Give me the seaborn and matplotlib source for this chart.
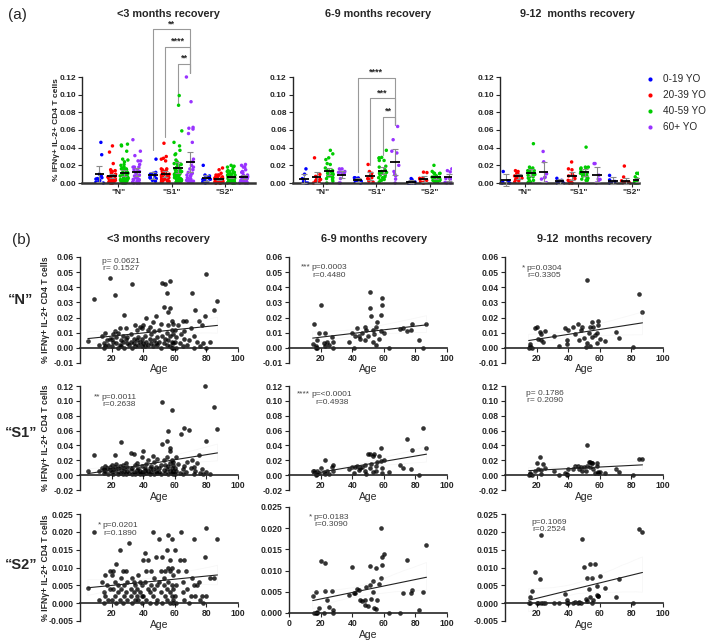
import numpy as np
import pandas as pd
import matplotlib
matplotlib.use("Agg")
import matplotlib.pyplot as plt
from matplotlib.collections import PolyCollection
import seaborn as sns

sns.set_style("ticks")
plt.rcParams["font.family"] = ["Liberation Sans", "DejaVu Sans"]
plt.rcParams["font.weight"] = "bold"

# ---------------- data ----------------
PERIODS = ["<3 months recovery", "6-9 months recovery", "9-12  months recovery"]
ANTIGENS = ['"N"', '"S1"', '"S2"']
ROW_LABELS = ["\u201cN\u201d", "\u201cS1\u201d", "\u201cS2\u201d"]
AGE_GROUPS = ["0-19 YO", "20-39 YO", "40-59 YO", "60+ YO"]
GROUP_COLORS = ["#0000ff", "#ff0000", "#00cc00", "#9933ff"]

ages_lt3 = [
    5, 9, 12, 14, 15, 15, 16, 16, 17, 18, 19, 19,
    20, 20, 21, 21, 22, 22, 23, 23, 24, 24,
    25, 25, 26, 26, 27, 27, 28, 28, 29, 29,
    30, 30, 31, 32, 32, 33, 33, 34, 34, 35,
    35, 36, 36, 37, 37, 38, 38, 39, 39, 39,
    40, 40, 41, 41, 42, 42, 43, 43, 44, 44,
    45, 45, 46, 46, 47, 47, 48, 48, 49, 49,
    50, 50, 51, 51, 52, 52, 53, 53, 54, 54,
    55, 55, 55, 56, 56, 56, 57, 57, 57, 57,
    58, 58, 58, 58, 59, 59, 59, 59,
    60, 60, 61, 61, 62, 63, 64, 65, 65, 66,
    66, 67, 68, 69, 70, 71, 72, 72, 73, 74,
    75, 76, 77, 78, 79, 80, 80, 82, 85, 87,
]
n_lt3 = [
    0.0045, 0.032, 0.002, 0.008, 0.000, 0.003, 0.010, 0.001, 0.005, 0.002, 0.046, 0.006,
    0.001, 0.006, 0.004, 0.009, 0.035, 0.011, 0.003, 0.007, 0.000, 0.010,
    0.002, 0.013, 0.005, 0.001, 0.008, 0.004, 0.022, 0.000, 0.006, 0.013,
    0.003, 0.007, 0.002, 0.009, 0.004, 0.000, 0.042, 0.006, 0.003, 0.015,
    0.001, 0.005, 0.012, 0.002, 0.007, 0.014, 0.004, 0.001, 0.006, 0.013,
    0.003, 0.015, 0.001, 0.008, 0.020, 0.004, 0.012, 0.002, 0.006, 0.014,
    0.003, 0.009, 0.001, 0.017, 0.005, 0.011, 0.003, 0.021, 0.007, 0.002,
    0.012, 0.004, 0.016, 0.000, 0.043, 0.008, 0.003, 0.027, 0.042, 0.006,
    0.010, 0.002, 0.036, 0.024, 0.005, 0.015, 0.044, 0.001, 0.008, 0.026,
    0.004, 0.012, 0.000, 0.018, 0.009, 0.003, 0.016, 0.000,
    0.004, 0.012, 0.000, 0.007, 0.015, 0.003, 0.009, 0.018, 0.001, 0.006,
    0.011, 0.018, 0.002, 0.005, 0.013, 0.036, 0.000, 0.008, 0.025, 0.004,
    0.018, 0.001, 0.015, 0.003, 0.021, 0.049, 0.000, 0.004, 0.025, 0.031,
]
s1_lt3 = [
    0.0057, 0.027, 0.005, 0.010, 0.003, 0.008, 0.012, 0.006, 0.009, 0.002, 0.011, 0.007,
    0.004, 0.013, 0.008, 0.002, 0.027, 0.011, 0.006, 0.015, 0.001, 0.009,
    0.003, 0.012, 0.007, 0.045, 0.014, 0.002, 0.010, 0.005, 0.016, 0.001,
    0.006, 0.011, 0.003, 0.008, 0.030, 0.002, 0.009, 0.028, 0.004, 0.013,
    0.001, 0.007, 0.016, 0.003, 0.010, 0.005, 0.002, 0.012, 0.025, 0.004,
    0.002, 0.032, 0.007, 0.010, 0.003, 0.015, 0.021, 0.005, 0.009, 0.001,
    0.012, 0.004, 0.026, 0.008, 0.002, 0.018, 0.006, 0.011, 0.003, 0.022,
    0.010, 0.004, 0.014, 0.001, 0.099, 0.042, 0.020, 0.007, 0.013, 0.003,
    0.024, 0.008, 0.046, 0.059, 0.012, 0.002, 0.037, 0.016, 0.005, 0.033,
    0.088, 0.010, 0.003, 0.021, 0.018, 0.006, 0.001, 0.014,
    0.010, 0.002, 0.024, 0.006, 0.015, 0.003, 0.056, 0.008, 0.001, 0.012,
    0.063, 0.004, 0.018, 0.061, 0.009, 0.020, 0.002, 0.011, 0.005, 0.016,
    0.027, 0.003, 0.008, 0.001, 0.120, 0.046, 0.004, 0.002, 0.092, 0.062,
]
s2_lt3 = [
    0.0042, 0.020, 0.001, 0.006, 0.000, 0.003, 0.008, 0.002, 0.005, 0.001, 0.009, 0.004,
    0.008, 0.001, 0.009, 0.004, 0.002, 0.006, 0.000, 0.011, 0.003, 0.005,
    0.015, 0.001, 0.007, 0.004, 0.000, 0.009, 0.002, 0.005, 0.009, 0.003,
    0.001, 0.006, 0.017, 0.004, 0.002, 0.000, 0.007, 0.003, 0.006, 0.001,
    0.005, 0.002, 0.004, 0.008, 0.001, 0.006, 0.003, 0.000, 0.005, 0.002,
    0.012, 0.002, 0.006, 0.014, 0.001, 0.009, 0.004, 0.012, 0.003, 0.000,
    0.009, 0.005, 0.002, 0.020, 0.007, 0.004, 0.000, 0.013, 0.005, 0.001,
    0.018, 0.006, 0.009, 0.003, 0.013, 0.000, 0.005, 0.007, 0.009, 0.002,
    0.015, 0.004, 0.001, 0.019, 0.006, 0.010, 0.003, 0.009, 0.012, 0.000,
    0.010, 0.002, 0.018, 0.005, 0.001, 0.008, 0.000, 0.004,
    0.002, 0.015, 0.005, 0.000, 0.009, 0.012, 0.020, 0.003, 0.006, 0.012,
    0.001, 0.009, 0.004, 0.000, 0.002, 0.007, 0.018, 0.005, 0.002, 0.005,
    0.006, 0.001, 0.002, 0.000, 0.013, 0.021, 0.002, 0.007, 0.007, 0.018,
]

ages_6_9 = [
    15, 16, 17, 17, 18, 18, 19,
    20, 22, 23, 23, 24, 25, 27, 28, 28, 38,
    40, 41, 42, 43, 44, 45, 46, 48, 48, 49,
    50, 51, 51, 52, 53, 53, 54, 55, 55, 56,
    57, 58, 58, 59, 59,
    60, 63, 70, 72, 75, 77, 78, 82, 85, 87,
]
n_6_9 = [
    0.0026, 0.016, 0.0015, 0.000, 0.005, 0.000, 0.010,
    0.0285, 0.003, 0.0097, 0.001, 0.004, 0.002, 0.0075, 0.004, 0.000, 0.004,
    0.0097, 0.000, 0.008, 0.013, 0.008, 0.006, 0.010, 0.014, 0.005, 0.012,
    0.008, 0.037, 0.0265, 0.021, 0.004, 0.012, 0.009, 0.014, 0.002, 0.017,
    0.006, 0.022, 0.011, 0.0285, 0.033,
    0.010, 0.000, 0.0125, 0.013, 0.011, 0.012, 0.016, 0.005, 0.000, 0.016,
]
s1_6_9 = [
    0.0057, 0.0057, 0.002, 0.000, 0.006, 0.001, 0.003,
    0.010, 0.004, 0.021, 0.002, 0.005, 0.001, 0.011, 0.013, 0.006, 0.008,
    0.011, 0.003, 0.011, 0.012, 0.007, 0.009, 0.011, 0.006, 0.013, 0.001,
    0.029, 0.028, 0.010, 0.015, 0.0255, 0.004, 0.0285, 0.012, 0.006, 0.018,
    0.0255, 0.037, 0.019, 0.009, 0.003,
    0.020, 0.0044, 0.013, 0.010, 0.049, 0.008, 0.034, 0.000, 0.064, 0.036,
]
s2_6_9 = [
    0.0039, 0.000, 0.000, 0.005, 0.0002, 0.000, 0.0012,
    0.0123, 0.000, 0.0118, 0.0053, 0.003, 0.0013, 0.0051, 0.0008, 0.000, 0.0043,
    0.0108, 0.0047, 0.0046, 0.0057, 0.0055, 0.003, 0.0028, 0.002, 0.003, 0.0062,
    0.0016, 0.0066, 0.011, 0.0032, 0.0075, 0.005, 0.0011, 0.0106, 0.0009, 0.003,
    0.0068, 0.020, 0.0082, 0.0113, 0.0131,
    0.014, 0.000, 0.000, 0.0048, 0.0126, 0.0047, 0.0054, 0.0006, 0.005, 0.016,
]

ages_9_12 = [
    15, 16, 16, 17, 19,
    20, 21, 22, 23, 23, 24, 25, 31, 34, 38, 39, 39,
    40, 43, 44, 46, 47, 48, 49, 50, 51, 52,
    52, 53, 54, 54, 55, 55, 56, 57, 58, 58,
    59, 59,
    60, 63, 70, 72, 81, 85, 87,
]
n_9_12 = [
    0.000, 0.001, 0.0026, 0.000, 0.013,
    0.014, 0.006, 0.0104, 0.0055, 0.009, 0.004, 0.011, 0.008, 0.0013, 0.013, 0.0024, 0.005,
    0.012, 0.014, 0.009, 0.016, 0.0055, 0.012, 0.014, 0.0066, 0.0004, 0.0445,
    0.003, 0.0097, 0.0013, 0.014, 0.017, 0.007, 0.014, 0.0088, 0.003, 0.010,
    0.018, 0.0148,
    0.006, 0.0044, 0.0104, 0.0066, 0.0004, 0.0357, 0.024,
]
s1_9_12 = [
    0.000, 0.001, 0.003, 0.000, 0.0053,
    0.016, 0.008, 0.0238, 0.0075, 0.002, 0.015, 0.010, 0.005, 0.000, 0.003, 0.000, 0.002,
    0.008, 0.008, 0.012, 0.0128, 0.0084, 0.011, 0.0053, 0.011, 0.0053, 0.0128,
    0.0406, 0.018, 0.018, 0.011, 0.017, 0.017, 0.0084, 0.003, 0.016, 0.012,
    0.003, 0.0044,
    0.0044, 0.003, 0.0088, 0.004, 0.000, 0.022, 0.022,
]
s2_9_12 = [
    0.000, 0.000, 0.0017, 0.0035, 0.0086,
    0.000, 0.000, 0.0068, 0.0192, 0.000, 0.000, 0.000, 0.000, 0.000, 0.0025, 0.000, 0.0008,
    0.000, 0.000, 0.0003, 0.000, 0.0003, 0.000, 0.018, 0.0101, 0.0011, 0.0070,
    0.0005, 0.0039, 0.0017, 0.011, 0.0070, 0.000, 0.0008, 0.011, 0.0023, 0.0047,
    0.0020, 0.0019,
    0.0075, 0.0042, 0.0017, 0.0068, 0.000, 0.0208, 0.020,
]

# correlation stats printed on panel (b), rows = N, S1, S2 ; cols = periods
P_TEXT = [["p= 0.0621", "p=0.0003", "p=0.0304"],
          ["p=0.0011", "p=<0.0001", "p= 0.1786"],
          ["p=0.0201", "p=0.0183", "p=0.1069"]]
R_TEXT = [["r= 0.1527", "r=0.4480", "r=0.3305"],
          ["r=0.2638", "r=0.4938", "r= 0.2090"],
          ["r=0.1890", "r=0.3090", "r=0.2524"]]
STARS = [["", "***", "*"],
         ["**", "****", ""],
         ["*", "*", ""]]

# significance brackets on panel (a), S1 group (60+ vs each younger group)
BRACKETS = {
    0: dict(tops=[0.174, 0.154, 0.135], lows=[0.037, 0.052, 0.090],
            right_low=0.124, stars=["**", "****", "**"]),
    1: dict(tops=[0.119, 0.096, 0.075], lows=[0.012, 0.020, 0.032],
            right_low=0.066, stars=["****", "***", "**"]),
}

AGES = [ages_lt3, ages_6_9, ages_9_12]
VALUES = [[n_lt3, s1_lt3, s2_lt3], [n_6_9, s1_6_9, s2_6_9], [n_9_12, s1_9_12, s2_9_12]]

GAP = 4.3  # spacing between antigen groups in panel (a)

frames = []
for p, (age, vals) in enumerate(zip(AGES, VALUES)):
    for a, v in enumerate(vals):
        frames.append(pd.DataFrame({"period": p, "antigen": a, "age": age, "value": v}))
df = pd.concat(frames, ignore_index=True)
df["group"] = pd.cut(df["age"], [0, 20, 40, 60, 120], right=False, labels=AGE_GROUPS)
df["pos"] = df["antigen"] * GAP + df["group"].cat.codes


def t95(n):
    # two-sided 95% t quantile (Cornish-Fisher approximation)
    z, d = 1.96, n - 1
    return z + (z**3 + z) / (4 * d) + (5 * z**5 + 16 * z**3 + 3 * z) / (96 * d**2)


W, H = 709, 642
fig = plt.figure(figsize=(W / 100, H / 100), dpi=100)


def px_axes(left, top, right, bottom):
    return fig.add_axes([left / W, 1 - bottom / H, (right - left) / W, (bottom - top) / H])


def ftext(x, y, s, **kw):
    fig.text(x / W, 1 - y / H, s, **kw)


np.random.seed(7)

# ---------------- panel (a) ----------------
A_LEFT = [82, 293, 500]
A_XLIM = [(-1.4, 12.5), (-0.9, 11.9), (-0.5, 10.7)]
A_TITLE_X = [168, 378, 577]
PX_PER_UNIT = 12.44
Y0, Y1 = -0.003, 0.185
PX_PER_VAL = 106 / 0.12
a_bottom = 183 + (0 - Y0) * PX_PER_VAL
a_top = 183 - Y1 * PX_PER_VAL

legend_handles = None
for j in range(3):
    xl = A_XLIM[j]
    ax = px_axes(A_LEFT[j], a_top, A_LEFT[j] + (xl[1] - xl[0]) * PX_PER_UNIT, a_bottom)
    d = df[df["period"] == j]
    sns.stripplot(data=d, x="pos", y="value", hue="group", hue_order=AGE_GROUPS,
                  palette=GROUP_COLORS, native_scale=True, jitter=0.33, size=2.5,
                  linewidth=0, ax=ax, legend=(j == 2), zorder=2)
    st = d.groupby("pos")["value"].agg(["mean", "std", "count"])
    ci = st["count"].apply(t95) * st["std"] / np.sqrt(st["count"])
    ax.errorbar(st.index, st["mean"], yerr=ci, fmt="none", ecolor="#8a8a8a",
                elinewidth=0.8, capsize=2.2, capthick=0.8, zorder=3)
    ax.hlines(st["mean"], st.index - 0.38, st.index + 0.38, color="black", lw=1.3, zorder=4)

    if j in BRACKETS:
        b = BRACKETS[j]
        xr = GAP + 3
        for k in range(3):
            xb = GAP + k
            ax.plot([xb, xb, xr, xr], [b["lows"][k], b["tops"][k], b["tops"][k], b["right_low"]],
                    color="#999999", lw=0.8, clip_on=False, zorder=1)
            ax.text((xb + xr) / 2, b["tops"][k] + 0.0012, b["stars"][k], ha="center",
                    va="bottom", fontsize=6.5)

    ax.set_xlim(*xl)
    ax.set_ylim(Y0, Y1)
    ax.set_xticks([1.5, 1.5 + GAP, 1.5 + 2 * GAP])
    ax.set_xticklabels(ANTIGENS)
    ax.set_yticks(np.arange(0, 0.1201, 0.02))
    ax.set_yticklabels([f"{v:.2f}" for v in np.arange(0, 0.1201, 0.02)])
    ax.spines[["top", "right"]].set_visible(False)
    ax.spines["left"].set_bounds(0, 0.12)
    ax.spines["left"].set_linewidth(1.0)
    ax.spines["bottom"].set_position(("data", 0))
    ax.spines["bottom"].set_linewidth(1.8)
    ax.spines["bottom"].set_color("#333333")
    ax.tick_params(labelsize=6, length=3, width=0.8, pad=1.5)
    ax.set_xlabel("")
    ax.set_ylabel("")
    ftext(A_TITLE_X[j], 14, PERIODS[j], ha="center", va="center", fontsize=7.8)
    if j == 2:
        legend_handles = ax.get_legend_handles_labels()
        ax.get_legend().remove()

fig.legend(*legend_handles, loc="upper left", bbox_to_anchor=(640 / W, 1 - 74 / H),
           frameon=False, prop={"size": 7.2, "weight": "normal"}, handletextpad=0.3,
           labelspacing=0.6, markerscale=1.2, borderaxespad=0, borderpad=0)
ftext(57, 130, "% IFN\u03b3+ IL-2+ CD4 T cells", rotation=90, ha="center", va="center",
      fontsize=6)
ftext(8, 15, "(a)", fontsize=11, fontweight="normal", va="center")

# ---------------- panel (b) ----------------
B_LEFT = [80, 289, 505]
B_WIDTH = 158
B_TITLE_X = [158, 374, 594]
ROWS = [
    dict(top=257, bottom=363, lim=(-0.01, 0.06), step=0.01, fmt="{:.2f}"),
    dict(top=386, bottom=490, lim=(-0.02, 0.12), step=0.02, fmt="{:.2f}"),
    dict(top=514, bottom=621, lim=(-0.005, 0.025), step=0.005, fmt="{:.3f}"),
]
# stats text anchor: x in years, y (centre of 2 lines) in axes fraction
TXT_X = [[13.7, 14.2, 13.5], [13.7, 14.2, 13.5], [14.4, 15.6, 16.6]]
TXT_Y = [[0.925, 0.863, 0.857], [0.853, 0.88, 0.895], [0.855, 0.866, 0.886]]

for r in range(3):
    for c in range(3):
        spec = dict(ROWS[r])
        if r == 2 and c == 1:
            spec.update(top=507, bottom=613, lim=(0.0, 0.025))
        ax = px_axes(B_LEFT[c], spec["top"], B_LEFT[c] + B_WIDTH, spec["bottom"])
        sub = pd.DataFrame({"age": AGES[c], "value": VALUES[c][r]})
        sns.regplot(data=sub, x="age", y="value", ax=ax, ci=95, n_boot=1000, seed=1,
                    scatter_kws={"s": 11, "color": "black", "linewidths": 0, "clip_on": False},
                    line_kws={"color": "#222222", "lw": 0.8})
        for coll in ax.collections:
            if isinstance(coll, PolyCollection):
                coll.set_facecolor("none")
                coll.set_edgecolor("#cccccc")
                coll.set_linewidth(0.6)
        lo, hi = spec["lim"]
        ax.set_ylim(lo, hi)
        ax.set_xlim(0, 100)
        yt = np.arange(lo, hi + spec["step"] / 2, spec["step"])
        ax.set_yticks(yt)
        ax.set_yticklabels([spec["fmt"].format(v + 0.0) for v in yt])
        if r == 2 and c == 1:
            ax.set_xticks([0, 20, 40, 60, 80, 100])
        else:
            ax.set_xticks([20, 40, 60, 80, 100])
        ax.spines[["top", "right"]].set_visible(False)
        ax.spines["bottom"].set_position(("data", 0))
        ax.spines["bottom"].set_linewidth(1.2)
        ax.spines["left"].set_linewidth(1.0)
        ax.tick_params(labelsize=6.2, length=3, width=0.8, pad=1.5)
        ax.set_xlabel("Age", fontsize=7.5, labelpad=1)
        ax.set_ylabel("")

        tr = ax.get_xaxis_transform()
        ax.text(TXT_X[r][c], TXT_Y[r][c], P_TEXT[r][c] + "\n" + R_TEXT[r][c], transform=tr,
                ha="left", va="center", multialignment="center", fontsize=6,
                fontweight="normal", color="#444444", linespacing=1.05)
        if STARS[r][c]:
            ax.text(TXT_X[r][c] - 0.8, TXT_Y[r][c] + 0.042, STARS[r][c], transform=tr,
                    ha="right", va="center", fontsize=6, fontweight="normal", color="#444444")

        if r == 0:
            ftext(B_TITLE_X[c], 239, PERIODS[c], ha="center", va="center", fontsize=7.8)
        if c == 0:
            ftext(45, (spec["top"] + spec["bottom"]) / 2, "% IFN\u03b3+ IL-2+ CD4 T cells",
                  rotation=90, ha="center", va="center", fontsize=6.2)
            ftext(21, [300, 433, 565][r], ROW_LABELS[r], ha="center", va="center", fontsize=10.5)

ftext(12, 240, "(b)", fontsize=11, fontweight="normal", va="center")

fig.savefig("out.png", dpi=100)
